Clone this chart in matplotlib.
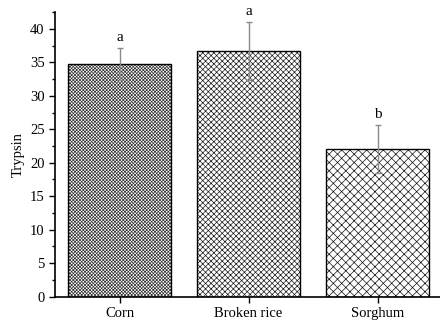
import numpy as np
import matplotlib.pyplot as plt
from matplotlib.ticker import MultipleLocator

plt.rcParams['font.family'] = ['Liberation Serif', 'DejaVu Serif']
plt.rcParams['hatch.linewidth'] = 0.5

categories = ['Corn', 'Broken rice', 'Sorghum']
trypsin = [34.8, 36.7, 22.0]
errors = [2.4, 4.3, 3.6]
letters = ['a', 'a', 'b']
hatches = ['x' * 10, 'x' * 6, 'x' * 4]
hatch_colors = ['#333333', '#1a1a1a', '#111111']

fig = plt.figure(figsize=(4.4, 3.25), dpi=100)
ax = fig.add_axes([0.125, 0.087, 0.88, 0.876])

x = np.arange(len(categories))
for i in range(len(categories)):
    # hatch layer in grey, then a black outline on top
    ax.bar(x[i], trypsin[i], width=0.8, color='white', edgecolor=hatch_colors[i],
           linewidth=0, hatch=hatches[i], zorder=2)
    ax.bar(x[i], trypsin[i], width=0.8, fill=False, edgecolor='black',
           linewidth=1.0, zorder=2.5)
ax.errorbar(x, trypsin, yerr=errors, fmt='none', ecolor='#8a8a8a',
            elinewidth=1.0, capsize=2.5, capthick=1.0, zorder=3)

for i in range(len(categories)):
    ax.text(x[i], trypsin[i] + errors[i] + 0.6, letters[i], ha='center',
            va='bottom', fontsize=11)

ax.set_xlim(-0.5, 2.5)
ax.set_ylim(0, 42.5)
ax.set_xticks(x)
ax.set_xticklabels(categories, fontsize=10.5)
ax.yaxis.set_major_locator(MultipleLocator(5))
ax.yaxis.set_minor_locator(MultipleLocator(2.5))
ax.tick_params(axis='both', which='major', direction='out', length=4, width=1, labelsize=10.5)
ax.tick_params(axis='y', which='minor', direction='out', length=2.5, width=1)
ax.set_ylabel('Trypsin', fontsize=10.5)
ax.spines['top'].set_visible(False)
ax.spines['right'].set_visible(False)
ax.spines['left'].set_linewidth(1.2)
ax.spines['bottom'].set_linewidth(1.2)

fig.savefig('out.png', dpi=100)
